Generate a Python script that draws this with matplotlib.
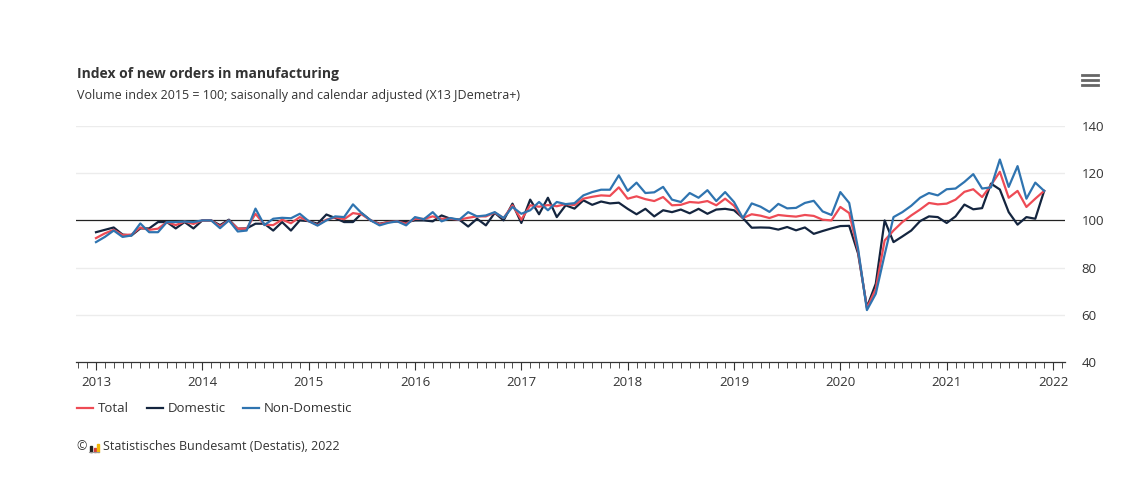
import numpy as np
import matplotlib
matplotlib.use("Agg")
import matplotlib.pyplot as plt
from matplotlib.lines import Line2D
from matplotlib.patches import Rectangle

plt.rcParams['font.family'] = ['Open Sans', 'DejaVu Sans']

# monthly index values, Jan 2013 .. Dec 2021
total = [92.5, 94.5, 96.0, 93.8, 94.0, 97.0, 96.0, 96.5, 99.3, 98.0, 99.5, 98.5,
         100.0, 100.0, 97.5, 100.0, 96.5, 96.5, 102.8, 98.2, 98.0, 100.3, 98.8, 101.4,
         99.7, 98.0, 100.3, 101.3, 100.5, 103.1, 102.5, 100.0, 98.4, 99.3, 99.6, 98.6,
         100.7, 100.6, 101.7, 100.7, 100.7, 100.3, 101.1, 101.7, 101.7, 103.3, 101.0, 106.4,
         100.3, 106.4, 105.8, 106.5, 106.0, 106.9, 106.5, 109.2, 110.0, 110.6, 110.4, 114.0,
         109.2, 110.2, 109.0, 108.2, 109.9, 106.4, 106.6, 107.8, 107.5, 108.2, 106.4, 109.2,
         106.2, 101.0, 102.6, 102.0, 101.0, 102.3, 101.9, 101.6, 102.3, 101.9, 100.3, 100.0,
         105.7, 103.1, 87.0, 62.8, 71.0, 91.5, 95.7, 99.3, 102.1, 104.6, 107.4, 106.8,
         107.1, 108.8, 112.1, 113.2, 109.9, 114.9, 120.6, 109.6, 112.5, 105.7, 109.2, 112.5]

domestic = [95.0, 96.0, 97.0, 94.0, 93.6, 96.6, 96.6, 99.3, 99.3, 96.6, 99.3, 96.6,
            100.0, 100.0, 98.0, 100.3, 96.5, 96.6, 98.6, 98.6, 95.7, 99.3, 95.7, 100.0,
            99.7, 98.6, 102.5, 101.0, 99.3, 99.3, 103.0, 100.0, 98.6, 99.3, 99.6, 99.3,
            100.0, 100.0, 99.6, 102.1, 100.7, 100.3, 97.4, 100.7, 97.9, 103.2, 100.0, 107.1,
            98.9, 108.8, 102.6, 109.6, 101.4, 106.4, 105.0, 108.5, 106.6, 108.0, 107.2, 107.5,
            104.9, 102.6, 104.9, 101.7, 104.3, 103.5, 104.6, 103.0, 104.9, 102.8, 104.6, 104.9,
            104.3, 101.0, 96.9, 97.0, 96.9, 96.1, 97.2, 95.8, 97.0, 94.3, 95.5, 96.6,
            97.6, 97.7, 86.0, 63.2, 73.2, 100.0, 90.8, 93.2, 95.7, 99.7, 101.7, 101.4,
            98.9, 101.7, 106.7, 104.7, 105.2, 115.6, 113.1, 103.5, 98.2, 101.4, 100.7, 112.5]

non_domestic = [90.8, 93.0, 95.7, 93.0, 93.6, 98.7, 95.0, 95.0, 99.3, 99.3, 99.5, 99.3,
                100.0, 100.0, 96.7, 100.0, 95.3, 95.7, 105.0, 98.0, 100.7, 101.1, 100.9, 102.8,
                99.7, 97.8, 100.0, 101.7, 101.4, 106.8, 103.0, 100.0, 97.9, 99.0, 99.6, 97.9,
                101.4, 100.5, 103.5, 99.6, 101.0, 100.3, 103.5, 101.7, 102.1, 103.5, 101.0, 105.7,
                102.8, 104.3, 107.8, 104.3, 107.8, 106.9, 107.3, 110.6, 112.0, 113.0, 113.0, 119.1,
                112.5, 116.0, 111.6, 111.9, 114.2, 108.8, 107.8, 111.6, 109.6, 112.8, 108.2, 112.0,
                107.8, 101.0, 107.2, 105.8, 103.6, 107.0, 105.1, 105.3, 107.4, 108.3, 103.8, 102.3,
                112.0, 107.4, 88.0, 62.0, 68.9, 85.5, 101.4, 103.5, 106.2, 109.6, 111.6, 110.6,
                113.2, 113.5, 116.3, 119.6, 113.5, 114.0, 125.8, 114.2, 123.0, 109.2, 116.0, 112.5]

years = list(range(2013, 2023))
yticks = [40, 60, 80, 100, 120, 140]
x = 2013 + np.arange(len(total)) / 12.0

c_total = "#ee4b55"
c_dom = "#14253f"
c_non = "#2f74b0"

fig = plt.figure(figsize=(11.33, 4.93), dpi=100)
ax = fig.add_axes([76/1133, 1-362/493, (1065-76)/1133, (362-126)/493])

for v in yticks[1:]:
    if v == 100:
        continue
    ax.axhline(v, color="#ececec", lw=1.0, zorder=0)
ax.axhline(100, color="#222222", lw=0.9, zorder=1)

ax.plot(x, total, color=c_total, lw=1.6, zorder=3)
ax.plot(x, domestic, color=c_dom, lw=1.6, zorder=2)
ax.plot(x, non_domestic, color=c_non, lw=1.6, zorder=4)

ax.set_ylim(40, 140)

for s in ["top", "left", "right"]:
    ax.spines[s].set_visible(False)
ax.spines["bottom"].set_color("#333333")
ax.spines["bottom"].set_linewidth(0.9)

ax.set_xticks(years)
ax.set_xticklabels([str(y) for y in years])
ax.set_xticks(2013 + np.arange(-2, 110) / 12.0, minor=True)
ax.tick_params(axis="x", which="major", direction="out", length=6, width=0.8,
               color="#333333", labelsize=9.5, labelcolor="#333333", pad=4)
ax.tick_params(axis="x", which="minor", direction="out", length=4, width=0.6, color="#333333")
ax.set_xlim(2013 - 20/106.4, 2022 + 12/106.4)

ax.yaxis.tick_right()
ax.set_yticks(yticks)
ax.tick_params(axis="y", length=0, labelsize=9.5, labelcolor="#333333", pad=12)

fig.text(77/1133, 1-74/493, "Index of new orders in manufacturing", fontsize=10,
         fontweight="bold", color="#333333", va="center")
fig.text(77/1133, 1-96/493, "Volume index 2015 = 100; saisonally and calendar adjusted (X13 JDemetra+)",
         fontsize=9, color="#333333", va="center")

# legend
leg_y = 1 - 408/493
items = [("Total", c_total, 77), ("Domestic", c_dom, 147), ("Non-Domestic", c_non, 243)]
for label, col, px in items:
    fig.add_artist(Line2D([px/1133, (px+16)/1133], [leg_y, leg_y], color=col, lw=1.6))
    fig.text((px+21)/1133, leg_y, label, fontsize=9.5, color="#333333", va="center")

# footer
foot_y = 1 - 447/493
fig.text(76/1133, foot_y, "©", fontsize=9, color="#333333", va="center")
fig.add_artist(Line2D([89/1133, 99/1133], [1-452/493, 1-452/493], color="#999999", lw=0.8))
for dx, h, col in [(0, 6, "#222222"), (3.5, 4, "#d33f3f"), (7, 8, "#f2b705")]:
    fig.add_artist(Rectangle(((90+dx)/1133, 1-452/493), 2.4/1133, h/493, color=col))
fig.text(103/1133, foot_y, "Statistisches Bundesamt (Destatis), 2022", fontsize=9,
         color="#333333", va="center")

# menu icon
for dy in [-5, 0, 5]:
    yy = 1 - (80+dy)/493
    fig.add_artist(Line2D([1082/1133, 1098/1133], [yy, yy], color="#666666", lw=2))

fig.savefig("out.png", dpi=100)
